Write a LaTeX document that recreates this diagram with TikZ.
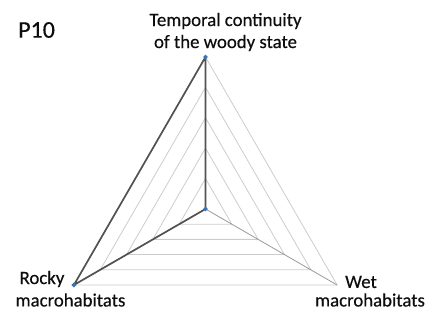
\documentclass[tikz,border=0pt]{standalone}
\usepackage{fontspec}
\setmainfont{Carlito}[FakeBold=0.35]
\usetikzlibrary{calc,shapes.geometric}
\begin{document}
\begin{tikzpicture}[x=1pt,y=-1pt,
  gridline/.style={draw=black!20, line width=0.8pt},
  spoke/.style={draw=black!40, line width=0.8pt},
  series/.style={draw=black!68, line width=1.7pt, line join=round},
  marker/.style={diamond, fill=blue!55!cyan!70!black!80, inner sep=0pt, minimum size=5pt},
  lbl/.style={font=\fontsize{18.8}{22}\selectfont, inner sep=0pt, text=black!95},
  ttl/.style={font=\fontsize{24}{28}\selectfont, inner sep=0pt, text=black!95}]
\useasboundingbox (0,0) rectangle (434,320);
\coordinate (c) at (205.5,209);
\foreach \k in {1,...,5}{
  \pgfmathsetmacro{\r}{152*\k/5}
  \draw[gridline] ($(c)+(0,-\r)$) -- ($(c)+(0.866*\r,0.5*\r)$) -- ($(c)+(-0.866*\r,0.5*\r)$) -- cycle;
}
\coordinate (top) at ($(c)+(0,-152)$);
\coordinate (bl) at ($(c)+(-131.6,76)$);
\coordinate (br) at ($(c)+(131.6,76)$);
\draw[spoke] (c) -- (top);
\draw[spoke] (c) -- (bl);
\draw[spoke] (c) -- (br);
\draw[series] (top) -- (c) -- (bl) -- cycle;
\node[marker] (m1) at (top) {};
\node[marker] (m2) at (c) {};
\node[marker] (m3) at (bl) {};
\node[ttl, anchor=west] (p) at (18,30) {P10};
\node[lbl, align=center] (t) at (225.5,32) {Temporal continuity\\of the woody state};
\node[lbl] (r1) at (42,279) {Rocky};
\node[lbl] (r2) at (70.5,300) {macrohabitats};
\node[lbl] (w1) at (361,282) {Wet};
\node[lbl] (w2) at (370,300) {macrohabitats};
\end{tikzpicture}
\end{document}
